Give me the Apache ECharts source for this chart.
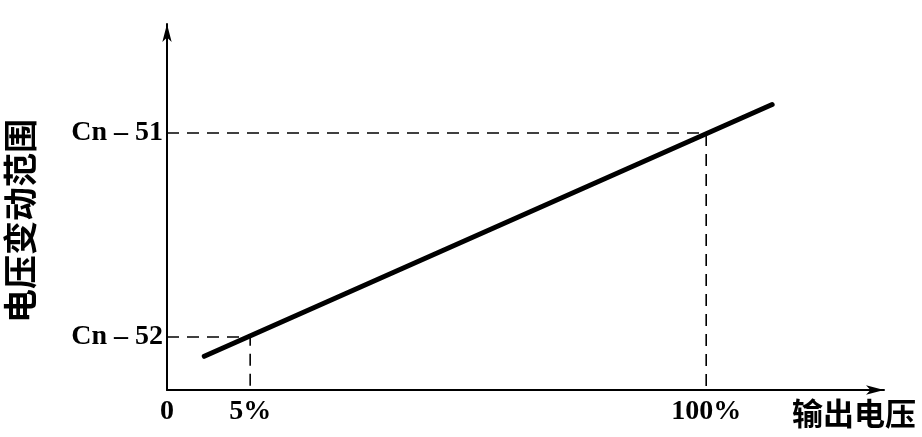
<!DOCTYPE html>
<html>
<head>
<meta charset="utf-8">
<script src="https://cdn.jsdelivr.net/npm/echarts@6/dist/echarts.min.js"></script>
<style>html,body{margin:0;padding:0;background:#fff}#c{width:922px;height:437px}</style>
</head>
<body>
<div id="c"></div>
<script>
// Schematic axis positions (abstract units 0..100)
const xTickPos = [0, 11.6, 75.2];
const xTickLabels = ['0', '5%', '100%'];
const yTickPos = [14.5, 70.2];
const yTickLabels = ['Cn – 52', 'Cn – 51'];
const lineData = [[5.2, 9.2], [84.4, 78.0]];
const guideLow = [[0, 14.5], [11.6, 14.5], [11.6, 0]];
const guideHigh = [[0, 70.2], [75.2, 70.2], [75.2, 0]];
const xName = '输出电压';
const yName = '电压变动范围';

const serif = '"Liberation Serif", "DejaVu Serif", serif';
const cjk = '"Noto Sans CJK SC", "Noto Sans CJK TC", sans-serif';

function lookup(pos, labels, v) {
  for (let i = 0; i < pos.length; i++) if (Math.abs(pos[i] - v) < 1e-6) return labels[i];
  return '';
}

const chart = echarts.init(document.getElementById('c'), null, {renderer: 'canvas'});
chart.setOption({
  backgroundColor: '#fff',
  animation: false,
  grid: {left: 167, right: 38, top: 24, bottom: 47, containLabel: false, outerBoundsMode: 'none'},
  xAxis: {
    type: 'value', min: 0, max: 100,
    name: xName, nameLocation: 'end', nameGap: -92,
    nameTextStyle: {fontFamily: cjk, fontWeight: 'bold', fontSize: 31, color: '#000', verticalAlign: 'top', padding: [8, 0, 0, 0]},
    axisLine: {show: true, symbol: ['none', 'arrow'], symbolSize: [7, 18], lineStyle: {color: '#000', width: 2}},
    axisTick: {show: false},
    splitLine: {show: false},
    axisLabel: {
      customValues: xTickPos, margin: 8,
      fontFamily: serif, fontWeight: 'bold', fontSize: 28, color: '#000',
      formatter: v => lookup(xTickPos, xTickLabels, v)
    }
  },
  yAxis: {
    type: 'value', min: 0, max: 100,
    name: yName, nameLocation: 'middle', nameRotate: 90, nameGap: 130,
    nameTextStyle: {fontFamily: cjk, fontWeight: 'bold', fontSize: 34, color: '#000', padding: [0, 28, 0, 0]},
    axisLine: {show: true, symbol: ['none', 'arrow'], symbolSize: [7, 18], lineStyle: {color: '#000', width: 2}},
    axisTick: {show: false},
    splitLine: {show: false},
    axisLabel: {
      customValues: yTickPos, margin: 4,
      fontFamily: serif, fontWeight: 'bold', fontSize: 28, color: '#000',
      formatter: v => lookup(yTickPos, yTickLabels, v)
    }
  },
  series: [
    {type: 'line', data: guideHigh, symbol: 'none', silent: true,
     lineStyle: {color: '#000', width: 1.6, type: [12, 8]}},
    {type: 'line', data: guideLow, symbol: 'none', silent: true,
     lineStyle: {color: '#000', width: 1.6, type: [12, 8]}},
    {type: 'line', data: lineData, symbol: 'none', silent: true,
     lineStyle: {color: '#000', width: 5, cap: 'round'}}
  ]
});
</script>
</body>
</html>
